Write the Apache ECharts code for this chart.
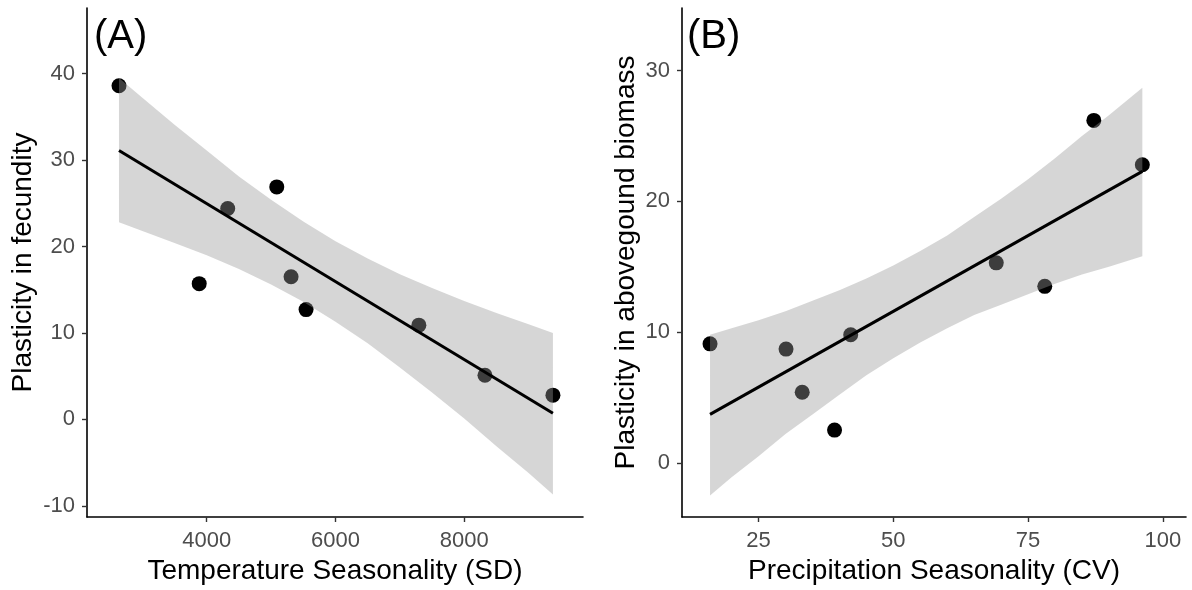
<!DOCTYPE html>
<html><head><meta charset="utf-8">
<script src="https://cdn.jsdelivr.net/npm/echarts@6/dist/echarts.min.js"></script>
<style>html,body{margin:0;padding:0;background:#fff}#c{width:1192px;height:590px}</style>
</head><body><div id="c"></div>
<script>
// Panel A data
const tempSD = [2637, 4326, 3883, 5088, 5310, 5543, 7295, 8322, 9378];
const fecundity = [38.6, 24.4, 15.7, 26.9, 16.5, 12.7, 10.9, 5.1, 2.8];
const fitA_x = [2637, 9378];
const fitA_y = [31.1, 0.7];
const bandA_x = [2637, 3000, 3500, 4000, 4500, 5000, 5500, 6000, 6500, 7000, 7500, 8000, 8500, 9000, 9378];
const bandA_upper = [39.5, 37.2, 34.1, 31.1, 28.1, 25.4, 22.9, 20.6, 18.6, 16.8, 15.2, 13.7, 12.3, 11.0, 10.0];
const bandA_lower = [22.8, 21.8, 20.4, 19.0, 17.4, 15.6, 13.6, 11.3, 8.8, 6.0, 3.1, 0.1, -3.1, -6.2, -8.7];
const ticksA_x = [4000, 6000, 8000];
const ticksA_y = [-10, 0, 10, 20, 30, 40];

// Panel B data
const precipCV = [16.0, 30.1, 33.1, 39.1, 42.1, 69.1, 78.1, 87.2, 96.2];
const biomass = [9.1, 8.7, 5.4, 2.5, 9.8, 15.3, 13.5, 26.2, 22.8];
const fitB_x = [16.0, 96.2];
const fitB_y = [3.7, 22.3];
const bandB_x = [16, 20, 25, 30, 35, 40, 45, 50, 55, 60, 65, 70, 75, 80, 85, 90, 96.2];
const bandB_upper = [9.8, 10.3, 10.9, 11.6, 12.4, 13.2, 14.1, 15.1, 16.2, 17.4, 18.8, 20.2, 21.7, 23.3, 25.0, 26.6, 28.7];
const bandB_lower = [-2.5, -1.1, 0.5, 2.2, 3.7, 5.2, 6.7, 8.0, 9.2, 10.3, 11.3, 12.1, 12.9, 13.7, 14.4, 15.0, 15.8];
const ticksB_x = [25, 50, 75, 100];
const ticksB_y = [0, 10, 20, 30];

const FONT = 'Liberation Sans, Arial, sans-serif';

function zip(a, b) { return a.map((v, i) => [v, b[i]]); }

function bandSeries(idx, xs, up, lo) {
  return {
    type: 'custom', xAxisIndex: idx, yAxisIndex: idx, z: 3, silent: true,
    data: zip(xs, up),
    encode: { x: 0, y: 1 },
    renderItem: function (params, api) {
      if (params.dataIndex !== 0) return null;
      const pts = [];
      for (let i = 0; i < xs.length; i++) pts.push(api.coord([xs[i], up[i]]));
      for (let i = xs.length - 1; i >= 0; i--) pts.push(api.coord([xs[i], lo[i]]));
      return { type: 'polygon', shape: { points: pts }, style: { fill: 'rgba(153,153,153,0.4)' } };
    }
  };
}

function plainFmt(v) { return String(v); }

function xAxisCfg(idx, min, max, ticks, name) {
  return {
    type: 'value', gridIndex: idx, min: min, max: max,
    splitLine: { show: false },
    axisLine: { show: true, onZero: false, lineStyle: { color: '#000', width: 1.6 } },
    axisTick: { show: true, length: 5, customValues: ticks, lineStyle: { color: '#333', width: 1.4 } },
    axisLabel: { customValues: ticks, formatter: plainFmt, color: '#4d4d4d', fontSize: 22, fontFamily: FONT, margin: 13 },
    name: name, nameLocation: 'middle', nameGap: 36,
    nameTextStyle: { color: '#000', fontSize: 28, fontFamily: FONT }
  };
}
function yAxisCfg(idx, min, max, ticks, name, gap) {
  return {
    type: 'value', gridIndex: idx, min: min, max: max,
    splitLine: { show: false },
    axisLine: { show: true, onZero: false, lineStyle: { color: '#000', width: 1.6 } },
    axisTick: { show: true, length: 5, customValues: ticks, lineStyle: { color: '#333', width: 1.4 } },
    axisLabel: { customValues: ticks, formatter: plainFmt, color: '#4d4d4d', fontSize: 22, fontFamily: FONT, margin: 12 },
    name: name, nameLocation: 'middle', nameGap: gap,
    nameTextStyle: { color: '#000', fontSize: 28, fontFamily: FONT }
  };
}

const chart = echarts.init(document.getElementById('c'), null, { renderer: 'canvas' });
chart.setOption({
  animation: false,
  backgroundColor: '#fff',
  grid: [
    { left: 87, top: 8, width: 496, bottom: 73, outerBoundsMode: 'none', containLabel: false },
    { left: 682, top: 8, right: 6, bottom: 73, outerBoundsMode: 'none', containLabel: false }
  ],
  xAxis: [
    xAxisCfg(0, 2140, 9845, ticksA_x, 'Temperature Seasonality (SD)'),
    xAxisCfg(1, 10.8, 104.3, ticksB_x, 'Precipitation Seasonality (CV)')
  ],
  yAxis: [
    yAxisCfg(0, -11.3, 47.6, ticksA_y, 'Plasticity in fecundity', 50),
    yAxisCfg(1, -4.15, 34.8, ticksB_y, 'Plasticity in abovegound biomass', 42)
  ],
  graphic: [
    { type: 'text', left: 94, top: 17, style: { text: '(A)', font: '40px ' + FONT, fill: '#000' } },
    { type: 'text', left: 687, top: 17, style: { text: '(B)', font: '40px ' + FONT, fill: '#000' } }
  ],
  series: [
    { type: 'scatter', xAxisIndex: 0, yAxisIndex: 0, z: 2, symbolSize: 15,
      itemStyle: { color: '#000', opacity: 1 }, data: zip(tempSD, fecundity) },
    bandSeries(0, bandA_x, bandA_upper, bandA_lower),
    { type: 'line', xAxisIndex: 0, yAxisIndex: 0, z: 4, symbol: 'none',
      lineStyle: { color: '#000', width: 3 }, data: zip(fitA_x, fitA_y) },
    { type: 'scatter', xAxisIndex: 1, yAxisIndex: 1, z: 2, symbolSize: 15,
      itemStyle: { color: '#000', opacity: 1 }, data: zip(precipCV, biomass) },
    bandSeries(1, bandB_x, bandB_upper, bandB_lower),
    { type: 'line', xAxisIndex: 1, yAxisIndex: 1, z: 4, symbol: 'none',
      lineStyle: { color: '#000', width: 3 }, data: zip(fitB_x, fitB_y) }
  ]
});
</script>
</body></html>
